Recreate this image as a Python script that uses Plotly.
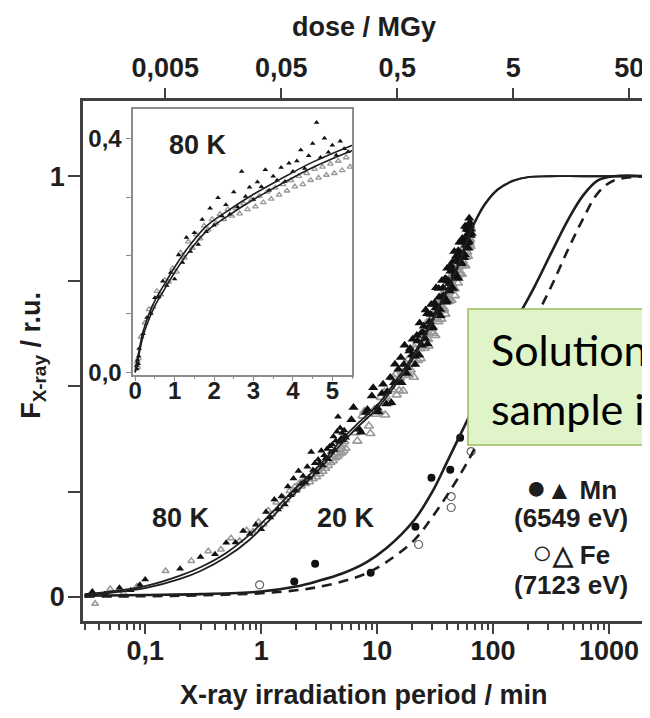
import plotly.graph_objects as go

# ---- tick labels ----
time_ticks = [0.1, 1, 10, 100, 1000]
time_labels = ["0,1", "1", "10", "100", "1000"]
dose_ticks = [0.005, 0.05, 0.5, 5, 50]
dose_labels = ["0,005", "0,05", "0,5", "5", "50"]
f_ticks = [0, 0.25, 0.5, 0.75, 1]
f_labels = ["0", "", "", "", "1"]
inset_t_ticks = [0, 1, 2, 3, 4, 5]
inset_t_labels = ["0", "1", "2", "3", "4", "5"]
inset_f_ticks = [0, 0.1, 0.2, 0.3, 0.4]
inset_f_labels = ["0,0", "", "", "", "0,4"]

# ---- 80 K data, early part (shown in inset and main plot) ----
mn80_t = [0.035, 0.045, 0.06, 0.075, 0.09,
          0.1, 0.2, 0.3, 0.4, 0.5, 0.6, 0.7, 0.8, 0.9, 1.0,
          1.1, 1.2, 1.3, 1.4, 1.5, 1.6, 1.7, 1.8, 1.9, 2.0,
          2.1, 2.2, 2.3, 2.4, 2.5, 2.6, 2.7, 2.8, 2.9, 3.0,
          3.1, 3.2, 3.3, 3.4, 3.5, 3.6, 3.7, 3.8, 3.9, 4.0,
          4.1, 4.2, 4.3, 4.4, 4.5, 4.6, 4.7, 4.8, 4.9, 5.0,
          5.1, 5.2, 5.3, 5.4]
mn80_f = [0.012, 0.006, 0.021, 0.015, 0.028,
          0.041, 0.066, 0.094, 0.101, 0.128, 0.129, 0.156, 0.149, 0.171, 0.160,
          0.201, 0.188, 0.231, 0.207, 0.239, 0.219, 0.262, 0.241, 0.281, 0.252,
          0.299, 0.268, 0.287, 0.271, 0.309, 0.283, 0.344, 0.301, 0.317, 0.296,
          0.326, 0.318, 0.347, 0.312, 0.336, 0.329, 0.351, 0.327, 0.358, 0.344,
          0.362, 0.381, 0.349, 0.371, 0.392, 0.428, 0.368, 0.401, 0.377, 0.389,
          0.372, 0.396, 0.383, 0.378]

fe80_t = [0.037, 0.065, 0.085,
          0.05, 0.15, 0.25, 0.35, 0.45, 0.55, 0.65, 0.75, 0.85, 0.95,
          1.05, 1.15, 1.25, 1.35, 1.45, 1.55, 1.65, 1.75, 1.85, 1.95,
          2.05, 2.15, 2.25, 2.35, 2.45, 2.55, 2.65, 2.75, 2.85, 2.95,
          3.05, 3.15, 3.25, 3.35, 3.45, 3.55, 3.65, 3.75, 3.85, 3.95,
          4.05, 4.15, 4.25, 4.35, 4.45, 4.55, 4.65, 4.75, 4.85, 4.95,
          5.05, 5.15, 5.25, 5.35, 5.45]
fe80_f = [-0.017, 0.009, 0.024,
          0.018, 0.061, 0.085, 0.108, 0.112, 0.139, 0.133, 0.158, 0.155, 0.178,
          0.172, 0.205, 0.196, 0.224, 0.213, 0.236, 0.229, 0.251, 0.244, 0.262,
          0.255, 0.271, 0.262, 0.279, 0.268, 0.281, 0.272, 0.289, 0.279, 0.296,
          0.284, 0.302, 0.291, 0.309, 0.297, 0.316, 0.304, 0.322, 0.311, 0.329,
          0.318, 0.336, 0.322, 0.341, 0.329, 0.348, 0.333, 0.352, 0.338, 0.357,
          0.341, 0.362, 0.346, 0.368, 0.352]

# ---- 80 K data, late part (main plot only) ----
mn80_late_t = [6, 7, 8, 9, 10, 11, 12, 13, 14, 15, 16, 17, 18, 19, 20,
               21, 22, 23, 24, 25, 26, 27, 28, 29, 30, 31, 32, 33, 34, 35,
               36, 37, 38, 39, 40, 41, 42, 43, 44, 45, 46, 47, 48, 49, 50,
               51, 52, 53, 54, 55, 56, 57, 58, 59, 60, 61, 62, 63, 64, 65,
               6.25, 7.25, 8.25, 9.25, 10.25, 11.25, 12.25, 13.25, 14.25, 15.25,
               16.25, 17.25, 18.25, 19.25, 20.25, 21.25, 22.25, 23.25, 24.25, 25.25,
               26.25, 27.25, 28.25, 29.25, 30.25, 31.25, 32.25, 33.25, 34.25, 35.25,
               36.25, 37.25, 38.25, 39.25, 40.25, 41.25, 42.25, 43.25, 44.25, 45.25,
               46.25, 47.25, 48.25, 49.25, 50.25, 51.25, 52.25, 53.25, 54.25, 55.25,
               56.25, 57.25, 58.25, 59.25, 60.25, 61.25, 62.25, 63.25, 64.25]
mn80_late_f = [0.421, 0.398, 0.438, 0.477, 0.449, 0.483, 0.458, 0.521, 0.509, 0.509,
               0.569, 0.552, 0.531, 0.584, 0.575, 0.572, 0.621, 0.575, 0.627, 0.628,
               0.614, 0.673, 0.642, 0.671, 0.639, 0.696, 0.687, 0.677, 0.733, 0.683,
               0.712, 0.735, 0.706, 0.756, 0.703, 0.750, 0.745, 0.774, 0.736, 0.797,
               0.774, 0.763, 0.799, 0.760, 0.823, 0.797, 0.818, 0.795, 0.843, 0.815,
               0.848, 0.813, 0.850, 0.879, 0.842, 0.873, 0.845, 0.890, 0.874, 0.864,
               0.450, 0.391, 0.445, 0.497, 0.439, 0.505, 0.488, 0.461, 0.553, 0.541,
               0.509, 0.598, 0.544, 0.590, 0.612, 0.552, 0.608, 0.651, 0.598, 0.643,
               0.682, 0.601, 0.654, 0.695, 0.641, 0.699, 0.735, 0.675, 0.713, 0.668,
               0.752, 0.716, 0.755, 0.700, 0.781, 0.751, 0.727, 0.788, 0.780, 0.733,
               0.821, 0.768, 0.811, 0.802, 0.757, 0.843, 0.813, 0.792, 0.852, 0.848,
               0.806, 0.881, 0.836, 0.874, 0.862, 0.829, 0.900, 0.883, 0.859]
fe80_late_t = [6.5, 7.5, 8.5, 9.5, 10.5, 11.5, 12.5, 13.5, 14.5, 15.5,
               16.5, 17.5, 18.5, 19.5, 20.5, 21.5, 22.5, 23.5, 24.5, 25.5,
               26.5, 27.5, 28.5, 29.5, 30.5, 31.5, 32.5, 33.5, 34.5, 35.5,
               36.5, 37.5, 38.5, 39.5, 40.5, 41.5, 42.5, 43.5, 44.5, 45.5,
               46.5, 47.5, 48.5, 49.5, 50.5, 51.5, 52.5, 53.5, 54.5, 55.5,
               56.5, 57.5, 58.5, 59.5, 60.5, 61.5, 62.5, 63.5, 64.5,
               6.75, 7.75, 8.75, 9.75, 10.75, 11.75, 12.75, 13.75, 14.75, 15.75,
               16.75, 17.75, 18.75, 19.75, 20.75, 21.75, 22.75, 23.75, 24.75, 25.75,
               26.75, 27.75, 28.75, 29.75, 30.75, 31.75, 32.75, 33.75, 34.75, 35.75,
               36.75, 37.75, 38.75, 39.75, 40.75, 41.75, 42.75, 43.75, 44.75, 45.75,
               46.75, 47.75, 48.75, 49.75, 50.75, 51.75, 52.75, 53.75, 54.75, 55.75,
               56.75, 57.75, 58.75, 59.75, 60.75, 61.75, 62.75, 63.75, 64.75]
fe80_late_f = [0.390, 0.430, 0.406, 0.445, 0.440, 0.486, 0.460, 0.492, 0.529, 0.490,
               0.533, 0.526, 0.564, 0.539, 0.564, 0.589, 0.562, 0.590, 0.626, 0.601,
               0.627, 0.612, 0.657, 0.639, 0.626, 0.671, 0.659, 0.701, 0.668, 0.691,
               0.705, 0.681, 0.727, 0.707, 0.724, 0.708, 0.755, 0.735, 0.732, 0.760,
               0.732, 0.762, 0.786, 0.763, 0.785, 0.769, 0.807, 0.793, 0.790, 0.817,
               0.808, 0.844, 0.808, 0.833, 0.851, 0.832, 0.852, 0.849, 0.876,
               0.370, 0.440, 0.388, 0.434, 0.474, 0.432, 0.465, 0.521, 0.480, 0.520,
               0.489, 0.553, 0.527, 0.553, 0.522, 0.599, 0.575, 0.566, 0.614, 0.591,
               0.651, 0.596, 0.638, 0.630, 0.674, 0.621, 0.663, 0.654, 0.709, 0.660,
               0.704, 0.685, 0.672, 0.733, 0.710, 0.702, 0.760, 0.705, 0.743, 0.735,
               0.716, 0.783, 0.762, 0.746, 0.785, 0.767, 0.817, 0.767, 0.799, 0.787,
               0.834, 0.787, 0.829, 0.820, 0.810, 0.866, 0.840, 0.833, 0.865]

# ---- 20 K data ----
mn20_t = [1.93, 2.92, 8.8, 21.4, 29.4, 42.7, 52]
mn20_f = [0.036, 0.078, 0.057, 0.166, 0.283, 0.302, 0.378]
fe20_t = [0.97, 22.8, 43.5, 43.5, 64.6]
fe20_f = [0.028, 0.124, 0.238, 0.212, 0.345]

# ---- fitted curves ----
fit80_t = [0.03, 0.05, 0.1, 0.2, 0.3, 0.5, 0.8, 1.2, 1.8, 2.5, 3.5, 5, 7, 10,
           14, 20, 28, 38, 50, 65, 85, 110, 150, 200, 300, 600, 2200]
fit80_mn = [0.006, 0.012, 0.025, 0.05, 0.07, 0.104, 0.148, 0.196, 0.247, 0.285,
            0.325, 0.375, 0.415, 0.455, 0.507, 0.57, 0.645, 0.718, 0.79, 0.875,
            0.935, 0.97, 0.99, 0.998, 1.0, 1.0, 1.0]
fit80_fe = [0.004, 0.009, 0.02, 0.042, 0.061, 0.094, 0.136, 0.184, 0.236, 0.274,
            0.316, 0.366, 0.407, 0.447, 0.499, 0.562, 0.638, 0.712, 0.785, 0.871,
            0.932, 0.968, 0.989, 0.998, 1.0, 1.0, 1.0]
fit20_t = [0.03, 0.1, 0.3, 1, 2, 3, 5, 8, 12, 21, 30, 41, 60, 100, 150, 230,
           320, 450, 600, 800, 1100, 2200]
fit20_mn = [0.002, 0.004, 0.006, 0.012, 0.024, 0.036, 0.055, 0.081, 0.115, 0.183,
            0.25, 0.326, 0.42, 0.55, 0.645, 0.74, 0.82, 0.9, 0.955, 0.99, 1.0, 1.0]
fit20_fe = [0.0, 0.001, 0.003, 0.008, 0.015, 0.022, 0.036, 0.055, 0.082, 0.135,
            0.19, 0.245, 0.32, 0.44, 0.55, 0.66, 0.74, 0.83, 0.9, 0.96, 0.99, 1.0]
inset_fit_t = [0, 0.1, 0.2, 0.35, 0.5, 0.75, 1.0, 1.3, 1.8, 2.4, 3.0, 3.66,
               4.5, 5.43, 5.55]
inset_fit_mn = [0, 0.038, 0.07, 0.1, 0.123, 0.152, 0.18, 0.21, 0.25, 0.279,
                0.305, 0.33, 0.36, 0.387, 0.39]
inset_fit_fe = [0, 0.032, 0.062, 0.091, 0.114, 0.143, 0.171, 0.201, 0.241, 0.27,
                0.296, 0.321, 0.351, 0.378, 0.381]

INK = "#1e1e1e"
FRAME = "#404040"
GREYPT = "#999999"
FONT = "Liberation Sans, Arial, sans-serif"

fig = go.Figure()

tri_mn = dict(symbol="triangle-up", size=5, color="#111111")
tri_mn_main = dict(symbol="triangle-up", size=7, color="#111111")
tri_mn_late = dict(symbol="triangle-up", size=9, color="#111111")
tri_fe = dict(symbol="triangle-up-open", size=5, color=GREYPT, line=dict(width=1.3, color=GREYPT))
tri_fe_main = dict(symbol="triangle-up-open", size=6, color=GREYPT, line=dict(width=1.5, color=GREYPT))
tri_fe_late = dict(symbol="triangle-up-open", size=8, color=GREYPT, line=dict(width=1.6, color=GREYPT))

# main plot, 80 K points
fig.add_trace(go.Scatter(x=fe80_t, y=fe80_f, mode="markers", marker=tri_fe_main))
fig.add_trace(go.Scatter(x=fe80_late_t, y=fe80_late_f, mode="markers", marker=tri_fe_late))
fig.add_trace(go.Scatter(x=mn80_t, y=mn80_f, mode="markers", marker=tri_mn_main))
fig.add_trace(go.Scatter(x=mn80_late_t, y=mn80_late_f, mode="markers", marker=tri_mn_late))

# main plot, 20 K points
fig.add_trace(go.Scatter(x=mn20_t, y=mn20_f, mode="markers",
                         marker=dict(symbol="circle", size=8, color="#111111")))
fig.add_trace(go.Scatter(x=fe20_t, y=fe20_f, mode="markers",
                         marker=dict(symbol="circle-open", size=8, color="#666666",
                                     line=dict(width=1.2, color="#666666"))))

# fits
fig.add_trace(go.Scatter(x=fit80_t, y=fit80_fe, mode="lines", line_shape="spline",
                         line=dict(color=INK, width=1.8)))
fig.add_trace(go.Scatter(x=fit80_t, y=fit80_mn, mode="lines", line_shape="spline",
                         line=dict(color=INK, width=1.8)))
fig.add_trace(go.Scatter(x=fit20_t, y=fit20_mn, mode="lines", line_shape="spline",
                         line=dict(color=INK, width=2.6)))
fig.add_trace(go.Scatter(x=fit20_t, y=fit20_fe, mode="lines", line_shape="spline",
                         line=dict(color=INK, width=2.6, dash="10px,7px")))

# helper so the top dose axis is drawn
fig.add_trace(go.Scatter(x=dose_ticks, y=[0] * len(dose_ticks), xaxis="x2", mode="markers",
                         marker=dict(opacity=0), hoverinfo="skip"))

# inset
fig.add_trace(go.Scatter(x=fe80_t, y=fe80_f, mode="markers", marker=tri_fe,
                         xaxis="x3", yaxis="y3"))
fig.add_trace(go.Scatter(x=mn80_t, y=mn80_f, mode="markers", marker=tri_mn,
                         xaxis="x3", yaxis="y3"))
fig.add_trace(go.Scatter(x=inset_fit_t, y=inset_fit_fe, mode="lines", line_shape="spline",
                         line=dict(color=INK, width=1.6), xaxis="x3", yaxis="y3"))
fig.add_trace(go.Scatter(x=inset_fit_t, y=inset_fit_mn, mode="lines", line_shape="spline",
                         line=dict(color=INK, width=1.6), xaxis="x3", yaxis="y3"))

axis_common = dict(showgrid=False, zeroline=False, showline=True, linecolor=FRAME,
                   linewidth=2.5, tickcolor=FRAME, tickwidth=2, ticks="outside")

# the page adds an 8 px body margin, so the margins are shifted to compensate
fig.update_layout(
    width=650, height=718,
    margin=dict(l=74.5, r=11.5, t=93, b=104.5),
    paper_bgcolor="white", plot_bgcolor="white",
    showlegend=False,
    font=dict(family=FONT, size=27, color=INK, weight="bold"),
    xaxis=dict(axis_common, type="log", range=[-1.536, 3.301], mirror=True,
               tickmode="array", tickvals=time_ticks, ticktext=time_labels, ticklen=10,
               ticklabelstandoff=-6,
               minor=dict(ticks="outside", ticklen=6, tickwidth=1.5, tickcolor=FRAME,
                          dtick="D1", showgrid=False),
               anchor="y", domain=[0, 1]),
    xaxis2=dict(showgrid=False, zeroline=False, showline=False, type="log",
                range=[-3.010, 1.827], overlaying="x", side="top", anchor="y",
                tickmode="array", tickvals=dose_ticks, ticktext=dose_labels,
                ticks="outside", ticklen=12, tickwidth=2, tickcolor=FRAME),
    yaxis=dict(axis_common, range=[-0.058, 1.179], mirror=True, tickmode="array",
               tickvals=f_ticks, ticktext=f_labels, ticklen=12, ticklabelstandoff=-2,
               anchor="x", domain=[0, 1]),
    xaxis3=dict(showgrid=False, zeroline=False, showline=True, mirror=True,
                linecolor="#8c8c8c", linewidth=1.5, ticks="outside", ticklen=5,
                tickcolor="#8c8c8c", tickwidth=1.2, range=[-0.05, 5.5],
                tickmode="array", tickvals=inset_t_ticks, ticktext=inset_t_labels,
                ticklabelstandoff=-11,
                minor=dict(ticks="outside", ticklen=3, dtick=0.5, tickcolor="#8c8c8c"),
                tickfont=dict(size=24), domain=[0.0895, 0.4796], anchor="y3"),
    yaxis3=dict(showgrid=False, zeroline=False, showline=True, mirror=True,
                linecolor="#8c8c8c", linewidth=1.5, ticks="outside", ticklen=5,
                tickcolor="#8c8c8c", tickwidth=1.2, range=[-0.004, 0.451],
                tickmode="array", tickvals=inset_f_ticks, ticktext=inset_f_labels,
                tickfont=dict(size=24), domain=[0.4736, 0.9846], anchor="x3"),
)

big = "<span style='font-size:34px'>{}</span>"
ann = [
    dict(text="dose / MGy", x=0.5, y=1.142),
    dict(text="X-ray irradiation period / min", x=0.5, y=-0.142),
    dict(text="F<sub>X-ray</sub> / r.u.", x=-0.089, y=0.51, textangle=-90),
    dict(text="80 K", x=0.1755, y=0.198),
    dict(text="20 K", x=0.468, y=0.198),
    dict(text="80 K", x=0.2057, y=0.915),
    dict(text=big.format("\u25cf") + "\u25b2 Mn", x=0.8706, y=0.2577, font=dict(size=26)),
    dict(text="(6549 eV)", x=0.8706, y=0.198, font=dict(size=26)),
    dict(text=big.format("\u25cb") + "\u25b3 Fe", x=0.8706, y=0.1327, font=dict(size=26)),
    dict(text="(7123 eV)", x=0.8706, y=0.0692, font=dict(size=26)),
]
for a in ann:
    fig.add_annotation(xref="paper", yref="paper", showarrow=False,
                       xanchor="center", yanchor="middle", **a)

# overlaid callout box
fig.add_shape(type="rect", xref="paper", yref="paper", x0=0.6862, x1=1.05, y0=0.3385, y1=0.6,
              fillcolor="#e0f4ca", line=dict(color="#9bbb59", width=1.5), layer="above")
for txt, yy in [("Solution", 0.523), ("sample i", 0.4077)]:
    fig.add_annotation(xref="paper", yref="paper", x=0.7234, y=yy, text=txt, showarrow=False,
                       xanchor="left", yanchor="middle",
                       font=dict(family="Lato, Open Sans, sans-serif", size=43,
                                 color="#000000", weight="normal"))

fig.write_html("out.html")
